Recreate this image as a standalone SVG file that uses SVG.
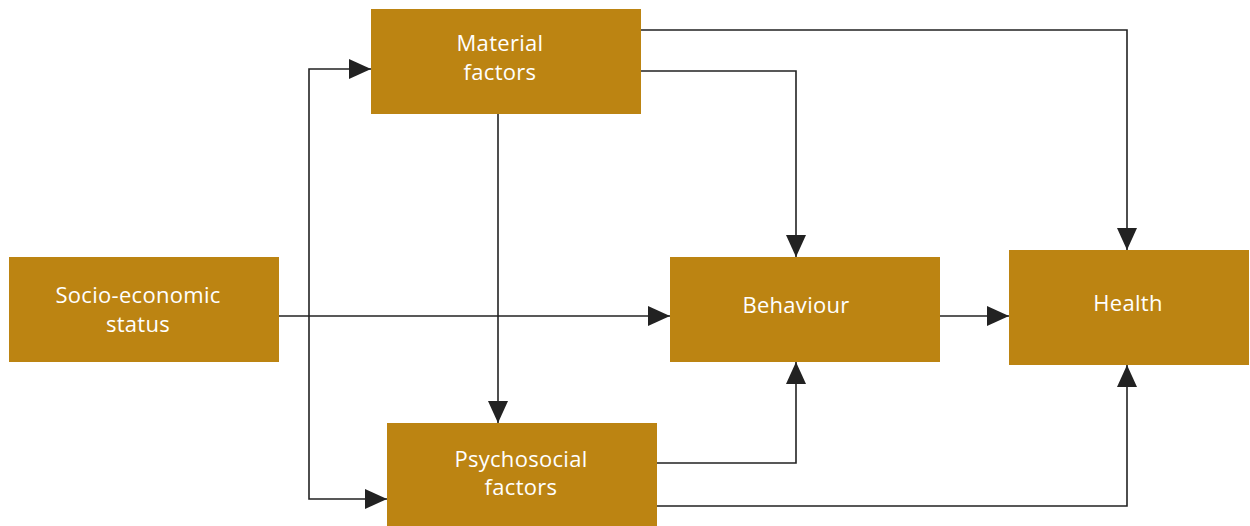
<svg xmlns="http://www.w3.org/2000/svg" width="1250" height="526" viewBox="0 0 1250 526">
<style>
.box{fill:#BC8412}
.t{fill:#fff;font-family:"Open Sans","Noto Sans",sans-serif;font-size:22px;letter-spacing:0.3px;text-anchor:middle}
.c{fill:none;stroke:#222;stroke-width:1.6}
</style>
<defs>
<marker id="ah" markerWidth="22" markerHeight="20" refX="22" refY="10" orient="auto" markerUnits="userSpaceOnUse">
<path d="M0,0 L22,10 L0,20 Z" fill="#222"/>
</marker>
</defs>
<rect width="1250" height="526" fill="#fff"/>
<g id="connectors">
<path class="c" d="M279,316 H670" marker-end="url(#ah)"/>
<path class="c" d="M309,316 V69 H371" marker-end="url(#ah)"/>
<path class="c" d="M309,316 V499 H387" marker-end="url(#ah)"/>
<path class="c" d="M498,114 V423" marker-end="url(#ah)"/>
<path class="c" d="M641,30 H1127 V250" marker-end="url(#ah)"/>
<path class="c" d="M641,71 H796 V257" marker-end="url(#ah)"/>
<path class="c" d="M657,463 H796 V362" marker-end="url(#ah)"/>
<path class="c" d="M657,506 H1127 V365" marker-end="url(#ah)"/>
<path class="c" d="M940,316 H1009" marker-end="url(#ah)"/>
</g>
<g id="ses">
<rect class="box" x="9" y="257" width="270" height="105"/>
<text class="t" x="138" y="303">Socio-economic</text>
<text class="t" x="138" y="332">status</text>
</g>
<g id="material">
<rect class="box" x="371" y="9" width="270" height="105"/>
<text class="t" x="500" y="51">Material</text>
<text class="t" x="500" y="80">factors</text>
</g>
<g id="psychosocial">
<rect class="box" x="387" y="423" width="270" height="103"/>
<text class="t" x="521" y="467">Psychosocial</text>
<text class="t" x="521" y="495">factors</text>
</g>
<g id="behaviour">
<rect class="box" x="670" y="257" width="270" height="105"/>
<text class="t" x="796" y="313">Behaviour</text>
</g>
<g id="health">
<rect class="box" x="1009" y="250" width="240" height="115"/>
<text class="t" x="1128" y="311">Health</text>
</g>
</svg>
